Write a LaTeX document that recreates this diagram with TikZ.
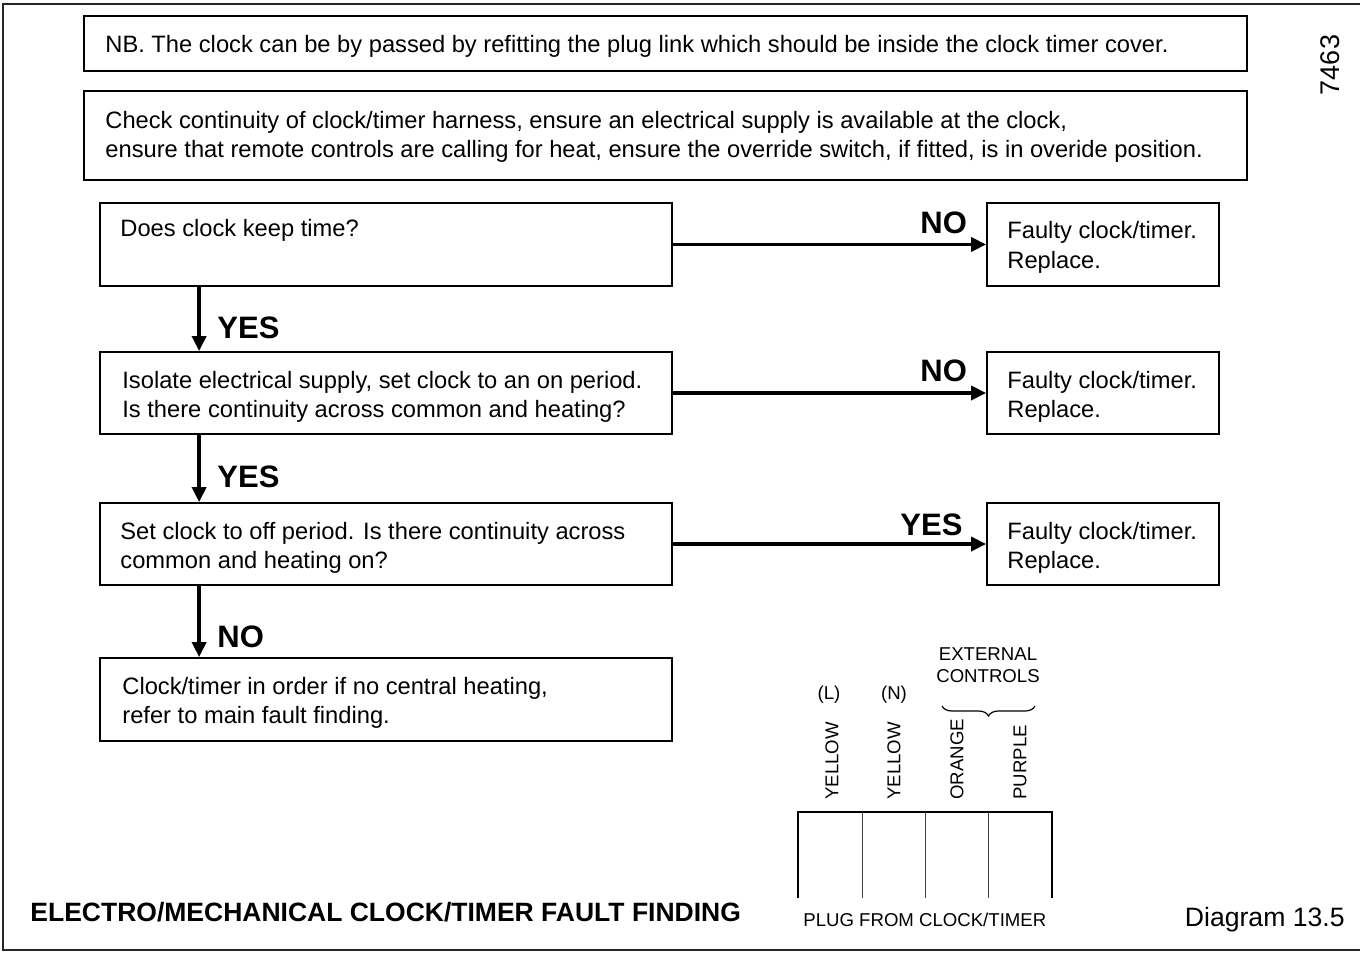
\documentclass[tikz,border=0pt]{standalone}
\usepackage{fontspec}
\setmainfont{Liberation Sans}
\usetikzlibrary{arrows.meta,fit,decorations.pathreplacing}
\begin{document}
\begin{tikzpicture}[x=0.5pt,y=-0.5pt,
  box/.style={draw, line width=0.9pt, inner sep=0pt},
  txt/.style={inner sep=0pt, anchor=base west, font=\fontsize{11.85}{14}\selectfont},
  lbl/.style={inner sep=0pt, anchor=base west, font=\fontsize{15.5}{18}\selectfont\bfseries},
  small/.style={inner sep=0pt, font=\fontsize{9.3}{11}\selectfont},
  wire/.style={inner sep=0pt, anchor=west, rotate=90, font=\fontsize{9.3}{11}\selectfont},
  arr/.style={line width=1.8pt, -{Triangle[length=7.5pt,width=7pt]}},
  frame/.style={line width=0.7pt, draw=black!85}]
\useasboundingbox (0,0) rectangle (1360,953);
% outer frame (open to the right)
\draw[frame] (1362,4) -- (3,4) -- (3,950) -- (1362,950);
% corner coordinates
\coordinate (nb1) at (84,16);   \coordinate (nb2) at (1247,71);
\coordinate (ck1) at (84,91);   \coordinate (ck2) at (1247,180);
\coordinate (a1) at (100,203);  \coordinate (a2) at (672,286);
\coordinate (b1) at (100,352);  \coordinate (b2) at (672,434);
\coordinate (c1) at (100,503);  \coordinate (c2) at (672,585);
\coordinate (d1) at (100,658);  \coordinate (d2) at (672,741);
\coordinate (ra1) at (987,203); \coordinate (ra2) at (1219,286);
\coordinate (rb1) at (987,352); \coordinate (rb2) at (1219,434);
\coordinate (rc1) at (987,503); \coordinate (rc2) at (1219,585);
% boxes
\node[box, fit=(nb1)(nb2)] (nb) {};
\node[box, fit=(ck1)(ck2)] (check) {};
\node[box, fit=(a1)(a2)] (q1) {};
\node[box, fit=(b1)(b2)] (q2) {};
\node[box, fit=(c1)(c2)] (q3) {};
\node[box, fit=(d1)(d2)] (q4) {};
\node[box, fit=(ra1)(ra2)] (r1) {};
\node[box, fit=(rb1)(rb2)] (r2) {};
\node[box, fit=(rc1)(rc2)] (r3) {};
% texts
\node[txt] (tnb) at (105,53) {NB. The clock can be by passed by refitting the plug link which should be inside the clock timer cover.};
\node[txt] (tck1) at (105,128.5) {Check continuity of clock/timer harness, ensure an electrical supply is available at the clock,};
\node[txt] (tck2) at (105,157.5) {ensure that remote controls are calling for heat, ensure the override switch, if fitted, is in overide position.};
\node[txt] (tq1) at (120,236.5) {Does clock keep time?};
\node[txt] (tq2a) at (122,388.5) {Isolate electrical supply, set clock to an on period.};
\node[txt] (tq2b) at (122,417.5) {Is there continuity across common and heating?};
\node[txt] (tq3a) at (120,539.5) {Set clock to off period. Is there continuity across};
\node[txt] (tq3b) at (120,568.5) {common and heating on?};
\node[txt] (tq4a) at (122,694.5) {Clock/timer in order if no central heating,};
\node[txt] (tq4b) at (122,723.5) {refer to main fault finding.};
\node[txt] (tr1a) at (1007,238.5) {Faulty clock/timer.};
\node[txt] (tr1b) at (1007,268.5) {Replace.};
\node[txt] (tr2a) at (1007,388.5) {Faulty clock/timer.};
\node[txt] (tr2b) at (1007,417.5) {Replace.};
\node[txt] (tr3a) at (1007,539.5) {Faulty clock/timer.};
\node[txt] (tr3b) at (1007,568.5) {Replace.};
% connectors
\draw[arr] (q1.east) -- (r1.west);
\draw[arr] (q2.east) -- (r2.west);
\draw[arr] (q3.east) -- (r3.west);
\draw[arr] ([xshift=50pt]q1.south west) -- ([xshift=50pt]q2.north west);
\draw[arr] ([xshift=50pt]q2.south west) -- ([xshift=50pt]q3.north west);
\draw[arr] ([xshift=50pt]q3.south west) -- ([xshift=50pt]q4.north west);
% connector labels
\node[lbl] (no1) at (920,233) {NO};
\node[lbl] (no2) at (920,381) {NO};
\node[lbl] (yes3) at (900,535) {YES};
\node[lbl] (yes1) at (217,338) {YES};
\node[lbl] (yes2) at (217,487) {YES};
\node[lbl] (no4) at (217,647) {NO};
% plug
\draw[line width=0.9pt] (798,898) -- (798,812) -- (1052,812) -- (1052,898);
\draw[line width=0.4pt, black!75] (862,812) -- (862,898) (925,812) -- (925,898) (988,812) -- (988,898);
\node[wire] (w1) at (832,800) {YELLOW};
\node[wire] (w2) at (894,800) {YELLOW};
\node[wire] (w3) at (957,800) {ORANGE};
\node[wire] (w4) at (1020,800) {PURPLE};
\node[small, anchor=base] (lL) at (829,699) {(L)};
\node[small, anchor=base] (lN) at (894,699) {(N)};
\node[small, anchor=base, align=center] (ext1) at (988,660.5) {EXTERNAL};
\node[small, anchor=base, align=center] (ext2) at (988,682.5) {CONTROLS};
\draw[line width=0.6pt, decorate, decoration={brace, amplitude=5pt}] (1035,706) -- (942,706);
\node[small, anchor=base west] (plug) at (803,926.7) {PLUG FROM CLOCK/TIMER};
% captions
\node[inner sep=0pt, anchor=base west, font=\fontsize{13.25}{16}\selectfont\bfseries] (title) at (30,921.5) {ELECTRO/MECHANICAL CLOCK/TIMER FAULT FINDING};
\node[inner sep=0pt, anchor=base east, font=\fontsize{13.3}{16}\selectfont] (diag) at (1345,926.5) {Diagram 13.5};
\node[inner sep=0pt, rotate=90, font=\fontsize{13.5}{16}\selectfont] (num) at (1330,65) {7463};
\end{tikzpicture}
\end{document}
